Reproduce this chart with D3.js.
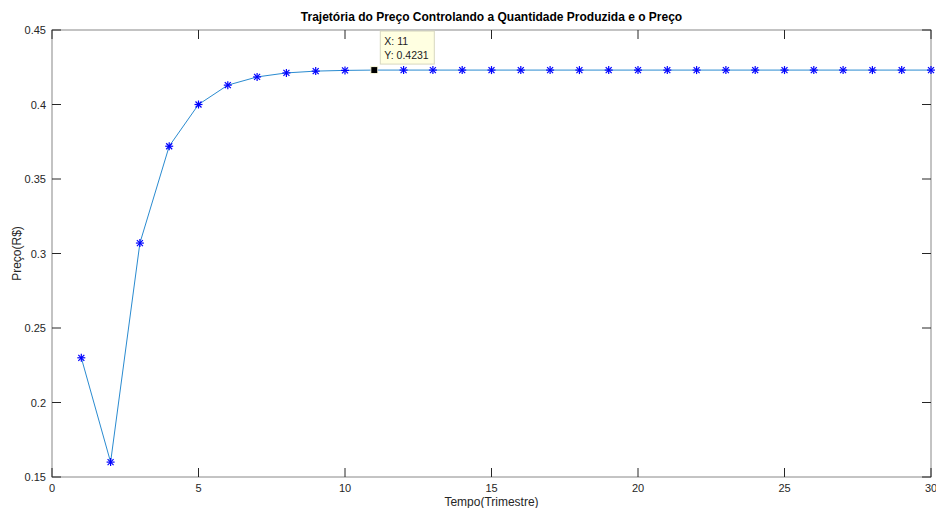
<!DOCTYPE html>
<html>
<head>
<meta charset="utf-8">
<script src="https://cdn.jsdelivr.net/npm/d3@7"></script>
<style>
  body { margin: 0; background: #fff; }
  text { font-family: "Liberation Sans", Arial, sans-serif; }
</style>
</head>
<body>
<svg id="chart" width="936" height="508"></svg>
<script>
// chart data
const quarters = d3.range(1, 31);
const prices = [0.230, 0.160, 0.307, 0.372, 0.400, 0.413, 0.4185, 0.4212, 0.4224, 0.4229,
  0.4231, 0.4231, 0.4231, 0.4231, 0.4231, 0.4231, 0.4231, 0.4231, 0.4231, 0.4231,
  0.4231, 0.4231, 0.4231, 0.4231, 0.4231, 0.4231, 0.4231, 0.4231, 0.4231, 0.4231];
const xTicks = [0, 5, 10, 15, 20, 25, 30];
const yTicks = [0.15, 0.2, 0.25, 0.3, 0.35, 0.4, 0.45];
const tipIndex = 10;

const margin = {left: 52, top: 30, right: 5, bottom: 31};
const width = 936, height = 508;

const svg = d3.select("#chart");

const x = d3.scaleLinear().domain([0, 30]).range([margin.left, width - margin.right]);
const y = d3.scaleLinear().domain([0.15, 0.45]).range([height - margin.bottom, margin.top]);

const axisColor = "#262626";
const tickLen = 9;

// box
svg.append("rect")
  .attr("x", x(0)).attr("y", y(0.45))
  .attr("width", x(30) - x(0)).attr("height", y(0.15) - y(0.45))
  .attr("fill", "none").attr("stroke", "#888").attr("stroke-width", 1);

const ax = svg.append("g").attr("class", "axes");

// x ticks (bottom + top, pointing inwards)
ax.selectAll("line.xb").data(xTicks).enter().append("line")
  .attr("x1", d => x(d)).attr("x2", d => x(d))
  .attr("y1", y(0.15)).attr("y2", y(0.15) - tickLen)
  .attr("stroke", axisColor);
ax.selectAll("line.xt").data(xTicks).enter().append("line")
  .attr("x1", d => x(d)).attr("x2", d => x(d))
  .attr("y1", y(0.45)).attr("y2", y(0.45) + tickLen)
  .attr("stroke", axisColor);
ax.selectAll("line.yl").data(yTicks).enter().append("line")
  .attr("x1", x(0)).attr("x2", x(0) + tickLen)
  .attr("y1", d => y(d)).attr("y2", d => y(d))
  .attr("stroke", axisColor);
ax.selectAll("line.yr").data(yTicks).enter().append("line")
  .attr("x1", x(30)).attr("x2", x(30) - tickLen)
  .attr("y1", d => y(d)).attr("y2", d => y(d))
  .attr("stroke", axisColor);

ax.selectAll("text.xl").data(xTicks).enter().append("text")
  .attr("x", d => x(d)).attr("y", y(0.15) + 15)
  .attr("text-anchor", "middle")
  .attr("font-size", 11).attr("fill", axisColor)
  .text(d => d);
ax.selectAll("text.yl").data(yTicks).enter().append("text")
  .attr("x", x(0) - 6).attr("y", d => y(d) + 4)
  .attr("text-anchor", "end")
  .attr("font-size", 11).attr("fill", axisColor)
  .text(d => d);

// labels
svg.append("text")
  .attr("x", (x(0) + x(30)) / 2).attr("y", 21)
  .attr("text-anchor", "middle").attr("font-size", 12).attr("font-weight", "bold")
  .attr("fill", "#000")
  .text("Trajetória do Preço Controlando a Quantidade Produzida e o Preço");
svg.append("text")
  .attr("x", (x(0) + x(30)) / 2).attr("y", 506)
  .attr("text-anchor", "middle").attr("font-size", 12).attr("fill", axisColor)
  .text("Tempo(Trimestre)");
svg.append("text")
  .attr("transform", `translate(21,${(y(0.15) + y(0.45)) / 2}) rotate(-90)`)
  .attr("text-anchor", "middle").attr("font-size", 12).attr("fill", axisColor)
  .text("Preço(R$)");

// line
const data = quarters.map((q, i) => ({q: q, p: prices[i]}));
svg.append("path").datum(data)
  .attr("fill", "none").attr("stroke", "#2a8bd0").attr("stroke-width", 1)
  .attr("d", d3.line().x(d => x(d.q)).y(d => y(d.p)));

// star markers
const star = svg.selectAll("g.mk").data(data).enter().append("g")
  .attr("transform", d => `translate(${x(d.q)},${y(d.p)})`);
[[-4, 0, 4, 0], [0, -4, 0, 4], [-3, -3, 3, 3], [-3, 3, 3, -3]].forEach(s => {
  star.append("line")
    .attr("x1", s[0]).attr("y1", s[1]).attr("x2", s[2]).attr("y2", s[3])
    .attr("stroke", "#0000ff").attr("stroke-width", 1.2);
});

// data tip
const tp = data[tipIndex];
svg.append("rect")
  .attr("x", x(tp.q) - 3.5).attr("y", y(tp.p) - 3.5)
  .attr("width", 7).attr("height", 7)
  .attr("fill", "#000").attr("stroke", "#ffffe0");
const tip = svg.append("g").attr("transform", `translate(${x(tp.q) + 6},${y(tp.p) - 39})`);
tip.append("rect")
  .attr("width", 54).attr("height", 33)
  .attr("fill", "#ffffe1").attr("stroke", "#d8d8c0");
tip.append("text").attr("x", 4).attr("y", 14)
  .attr("font-size", 10.5).attr("fill", "#222").text(`X: ${tp.q}`);
tip.append("text").attr("x", 4).attr("y", 28)
  .attr("font-size", 10.5).attr("fill", "#222").text(`Y: ${tp.p.toFixed(4)}`);
</script>
</body>
</html>
